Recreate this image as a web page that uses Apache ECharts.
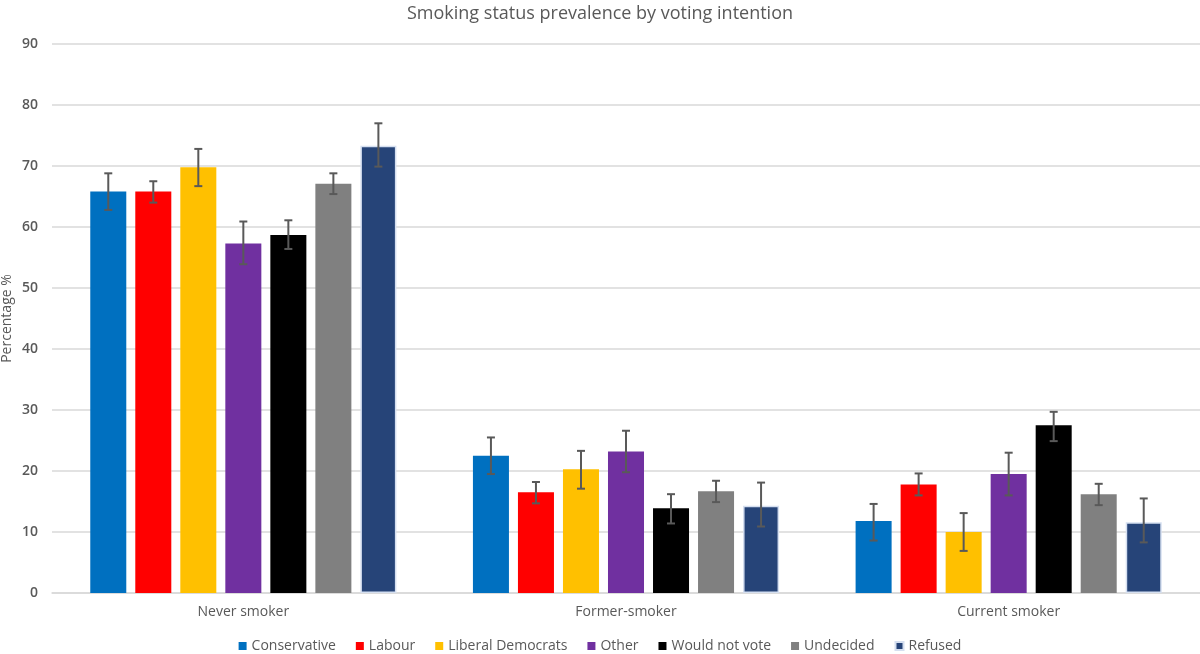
<!DOCTYPE html>
<html>
<head>
<meta charset="utf-8">
<script src="https://cdn.jsdelivr.net/npm/echarts@6/dist/echarts.min.js"></script>
<style>
  html, body { margin: 0; padding: 0; background: #fff; }
  #chartWrapper { width: 1200px; height: 654px; }
</style>
</head>
<body>
<div id="chartWrapper"></div>
<script>
let categories = ['Never smoker', 'Former-smoker', 'Current smoker'];
let parties = ['Conservative', 'Labour', 'Liberal Democrats', 'Other', 'Would not vote', 'Undecided', 'Refused'];
let colors = ['#0070c0', '#ff0000', '#ffc000', '#7030a0', '#000000', '#808080', '#264478'];

// value per party: [never, former, current]
let conservative = [65.8, 22.5, 11.8];
let labour = [65.8, 16.5, 17.8];
let libDem = [69.8, 20.3, 10.0];
let other = [57.3, 23.2, 19.5];
let wouldNotVote = [58.7, 13.9, 27.5];
let undecided = [67.1, 16.7, 16.2];
let refused = [73.3, 14.3, 11.6];

// 95% CI low / high
let conservativeLow = [62.8, 19.5, 8.6];
let conservativeHigh = [68.8, 25.5, 14.6];
let labourLow = [64.0, 14.7, 16.0];
let labourHigh = [67.5, 18.2, 19.6];
let libDemLow = [66.7, 17.1, 6.9];
let libDemHigh = [72.8, 23.3, 13.1];
let otherLow = [53.9, 19.8, 16.0];
let otherHigh = [60.9, 26.6, 23.0];
let wouldNotVoteLow = [56.4, 11.4, 24.9];
let wouldNotVoteHigh = [61.1, 16.2, 29.7];
let undecidedLow = [65.4, 14.9, 14.4];
let undecidedHigh = [68.8, 18.4, 17.9];
let refusedLow = [69.9, 10.9, 8.3];
let refusedHigh = [77.0, 18.1, 15.5];

let values = [conservative, labour, libDem, other, wouldNotVote, undecided, refused];
let lows = [conservativeLow, labourLow, libDemLow, otherLow, wouldNotVoteLow, undecidedLow, refusedLow];
let highs = [conservativeHigh, labourHigh, libDemHigh, otherHigh, wouldNotVoteHigh, undecidedHigh, refusedHigh];

let catGap = 0.2;
let barGap = 0.25;
let n = parties.length;

let myChart = echarts.init(document.getElementById('chartWrapper'));
let seriesData = [];

parties.forEach(function (name, i) {
    seriesData.push({
        name: name,
        type: 'bar',
        barGap: '25%',
        barCategoryGap: '20%',
        itemStyle: {
            color: colors[i],
            borderColor: i === n - 1 ? '#d5dff0' : colors[i],
            borderWidth: i === n - 1 ? 1.5 : 0
        },
        data: values[i]
    });
});

// error bars drawn on top of each bar
parties.forEach(function (name, i) {
    let errData = categories.map(function (c, j) {
        return [j, lows[i][j], highs[i][j]];
    });
    seriesData.push({
        name: name + ' CI',
        type: 'custom',
        z: 10,
        renderItem: function (params, api) {
            let band = api.size([1, 0])[0];
            let bw = band * (1 - catGap) / (n + (n - 1) * barGap);
            let pitch = bw * (1 + barGap);
            let offset = (i - (n - 1) / 2) * pitch;
            let lo = api.coord([api.value(0), api.value(1)]);
            let hi = api.coord([api.value(0), api.value(2)]);
            let x = lo[0] + offset;
            let cap = 4;
            let style = { stroke: '#595959', lineWidth: 2 };
            return {
                type: 'group',
                children: [
                    { type: 'line', shape: { x1: x, y1: lo[1], x2: x, y2: hi[1] }, style: style },
                    { type: 'line', shape: { x1: x - cap, y1: lo[1], x2: x + cap, y2: lo[1] }, style: style },
                    { type: 'line', shape: { x1: x - cap, y1: hi[1], x2: x + cap, y2: hi[1] }, style: style }
                ]
            };
        },
        encode: { x: 0, y: [1, 2] },
        data: errData
    });
});

let option = {
    textStyle: { fontFamily: 'Open Sans' },
    title: {
        text: 'Smoking status prevalence by voting intention',
        left: 'center',
        top: 0,
        textStyle: { color: '#595959', fontSize: 18, fontWeight: 'normal', fontFamily: 'Open Sans' }
    },
    legend: {
        data: parties,
        top: 634,
        left: 'center',
        itemWidth: 8,
        itemHeight: 8,
        itemGap: 20,
        icon: 'rect',
        textStyle: { color: '#595959', fontSize: 14 }
    },
    grid: {
        left: 52,
        right: 0,
        top: 44,
        bottom: 61,
        containLabel: false,
        outerBoundsMode: 'none'
    },
    xAxis: {
        type: 'category',
        data: categories,
        axisTick: { show: false },
        axisLine: { lineStyle: { color: '#d9d9d9', width: 1.5 } },
        axisLabel: { color: '#595959', fontSize: 14, margin: 12 }
    },
    yAxis: {
        type: 'value',
        min: 0,
        max: 90,
        interval: 10,
        name: 'Percentage %',
        nameLocation: 'middle',
        nameRotate: 90,
        nameGap: 38,
        nameMoveOverlap: false,
        nameTextStyle: { color: '#595959', fontSize: 14 },
        axisLabel: { color: '#595959', fontSize: 14, fontWeight: 600, margin: 14 },
        splitLine: { lineStyle: { color: '#d9d9d9', width: 1.5 } }
    },
    series: seriesData
};

myChart.setOption(option);
</script>
</body>
</html>
